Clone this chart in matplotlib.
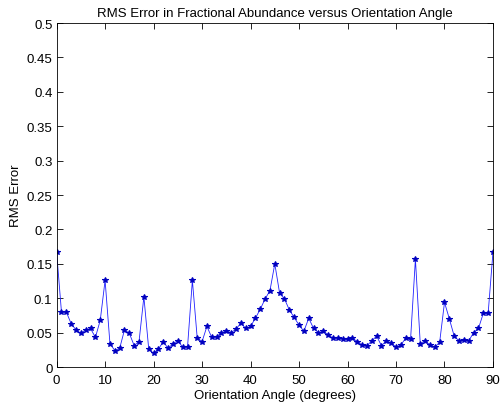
import numpy as np
import matplotlib
matplotlib.use('Agg')
import matplotlib.pyplot as plt
from matplotlib.ticker import FuncFormatter

# angles 0..90 deg, one sample per degree
angle = np.arange(0, 91)
rms_err = [
    0.167, 0.080, 0.080, 0.063, 0.054, 0.049, 0.054, 0.056, 0.043, 0.068,   # 0-9
    0.126, 0.034, 0.024, 0.027, 0.054, 0.049, 0.031, 0.037, 0.102, 0.026,   # 10-19
    0.020, 0.026, 0.037, 0.027, 0.034, 0.038, 0.029, 0.029, 0.126, 0.042,   # 20-29
    0.037, 0.059, 0.043, 0.044, 0.050, 0.052, 0.050, 0.055, 0.064, 0.056,   # 30-39
    0.059, 0.071, 0.084, 0.099, 0.111, 0.150, 0.107, 0.099, 0.083, 0.072,   # 40-49
    0.061, 0.052, 0.071, 0.056, 0.050, 0.052, 0.047, 0.042, 0.042, 0.041,   # 50-59
    0.040, 0.042, 0.037, 0.032, 0.031, 0.038, 0.045, 0.031, 0.038, 0.035,   # 60-69
    0.029, 0.032, 0.042, 0.040, 0.157, 0.034, 0.038, 0.032, 0.029, 0.036,   # 70-79
    0.094, 0.070, 0.045, 0.038, 0.039, 0.038, 0.050, 0.056, 0.078, 0.078,   # 80-89
    0.167,                                                                  # 90
]
xticks = np.arange(0, 91, 10)
yticks = np.arange(0, 0.501, 0.05)

plt.rcParams['font.family'] = ['Liberation Sans', 'DejaVu Sans']

fig = plt.figure(figsize=(5.01, 4.10), dpi=100, facecolor='w')
ax = fig.add_axes([0.113, 0.1024, 0.871, 0.839])
ax.plot(angle, rms_err, '-', color='#2020ff', linewidth=0.6,
        marker='*', markersize=3.8, markeredgewidth=0.8,
        markerfacecolor='#0000c0', markeredgecolor='#0000c0')

ax.set_xlim(0, 90)
ax.set_ylim(0, 0.5)
ax.set_xticks(xticks)
ax.set_yticks(yticks)
ax.yaxis.set_major_formatter(FuncFormatter(lambda v, p: '%g' % round(v, 2)))
ax.tick_params(direction='in', top=True, right=True, length=4,
               width=0.6, labelsize=9.5)
ax.tick_params(axis='x', pad=5)
ax.tick_params(axis='y', pad=3)
for s in ax.spines.values():
    s.set_linewidth(0.6)

ax.set_title('RMS Error in Fractional Abundance versus Orientation Angle',
             fontsize=9.5, pad=5)
ax.set_xlabel('Orientation Angle (degrees)', fontsize=9.5, labelpad=2)
ax.set_ylabel('RMS Error', fontsize=9.5, labelpad=3)

fig.savefig('out.png', dpi=100, facecolor='w')
